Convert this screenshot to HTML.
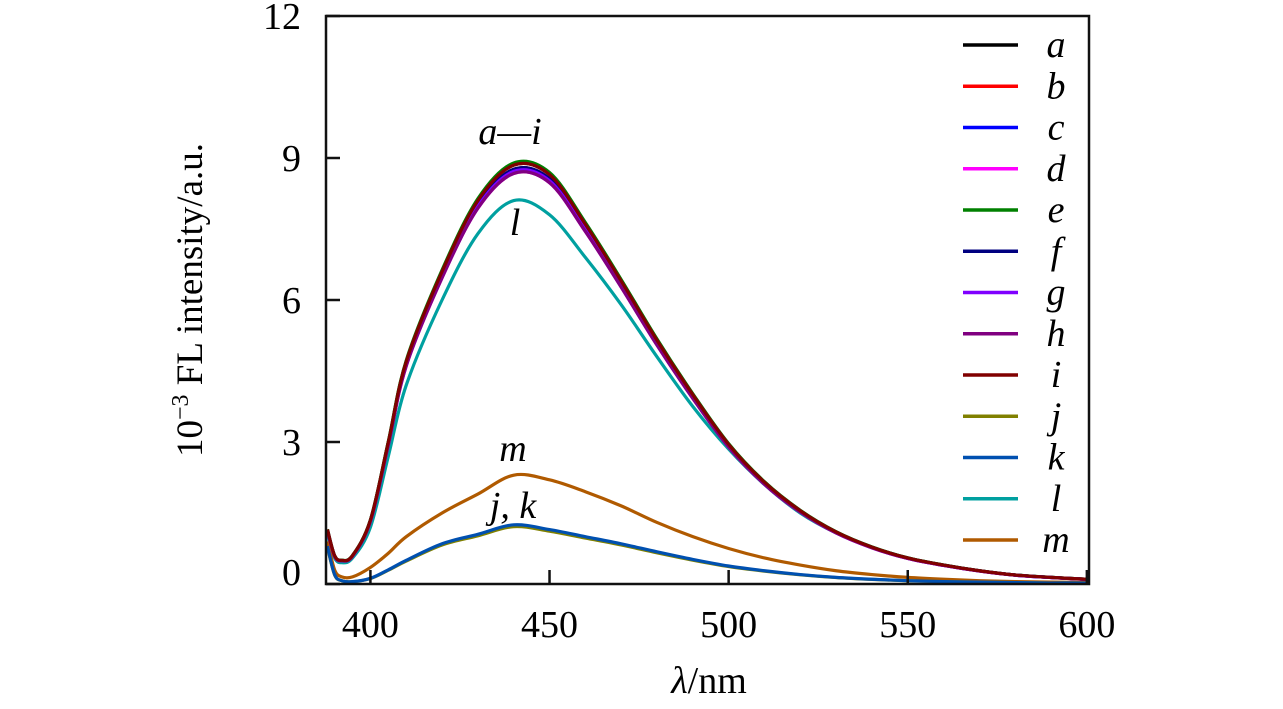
<!DOCTYPE html>
<html><head><meta charset="utf-8"><style>
body{margin:0;background:#fff;}
svg{display:block;}
svg text{font-family:"Liberation Serif","Times New Roman",serif;}
</style></head><body>
<svg id="chart" width="1283" height="709">
<g id="marks"></g>
<rect x="326" y="16" width="763" height="568" fill="none" stroke="#111" stroke-width="2.5"/>
<g id="axes"></g>
<g id="legend"></g>
<text x="190" y="312" font-size="37" text-anchor="middle" transform="rotate(-90 190 300)">10<tspan font-size="24" dy="-14">−3</tspan><tspan dy="14"> FL intensity/a.u.</tspan></text>
<text x="709" y="693" font-size="38" text-anchor="middle"><tspan font-style="italic">λ</tspan>/nm</text>
<text x="510" y="144" font-size="38" font-style="italic" text-anchor="middle">a—i</text>
<text x="515" y="235" font-size="38" font-style="italic" text-anchor="middle">l</text>
<text x="513" y="461" font-size="38" font-style="italic" text-anchor="middle">m</text>
<text x="513" y="518" font-size="38" font-style="italic" text-anchor="middle">j, k</text>
</svg>
<script>
const wavelengths=[388,390,392,395,400,405,410,420,430,440,450,460,470,480,490,500,510,520,530,540,550,560,570,580,590,600];
const mainValues=[1.15,0.6,0.5,0.6,1.35,3.0,4.7,6.6,8.1,8.85,8.65,7.6,6.4,5.15,4.0,2.95,2.15,1.55,1.1,0.78,0.55,0.4,0.28,0.19,0.14,0.1];
const lValues=[1.05,0.55,0.45,0.55,1.2,2.7,4.2,6.0,7.4,8.1,7.8,6.9,5.9,4.8,3.75,2.85,2.1,1.5,1.08,0.78,0.55,0.4,0.28,0.19,0.14,0.1];
const mValues=[0.9,0.3,0.15,0.15,0.35,0.65,1.0,1.5,1.9,2.3,2.2,1.95,1.65,1.3,1.0,0.75,0.55,0.4,0.28,0.2,0.14,0.1,0.07,0.05,0.04,0.03];
const jkValues=[0.8,0.2,0.07,0.05,0.12,0.3,0.5,0.85,1.05,1.25,1.15,1.0,0.85,0.68,0.52,0.38,0.28,0.2,0.14,0.1,0.07,0.05,0.04,0.03,0.02,0.02];
const seriesNames=["a","b","c","d","e","f","g","h","i","j","k","l","m"];
const seriesColors=["#000000","#ff0000","#0000ff","#ff00ff","#008000","#000080","#8000ff","#800080","#800000","#808000","#0050b0","#00a0a0","#b05a00"];
const seriesScale=[1.0,0.99,0.985,0.98,1.005,0.99,0.985,0.98,1.0,0.97,1.0,1,1];
const xTicks=[400,450,500,550,600];
const yTicks=[0,3,6,9,12];
const X0=387.6,X1=600.6,Y0=0,Y1=12;
function sx(v){return 326+(v-X0)/(X1-X0)*763;}
function sy(v){return 584-(v-Y0)/(Y1-Y0)*568;}
const NS="http://www.w3.org/2000/svg";
function mk(t,a,p){const e=document.createElementNS(NS,t);for(const k in a)e.setAttribute(k,a[k]);p.appendChild(e);return e;}
function pathFor(vals){
  const p=wavelengths.map((w,i)=>[sx(w),sy(vals[i])]);
  let d="M"+p[0][0]+","+p[0][1];
  for(let i=0;i<p.length-1;i++){
    const p0=p[Math.max(0,i-1)],p1=p[i],p2=p[i+1],p3=p[Math.min(p.length-1,i+2)];
    const c1=[p1[0]+(p2[0]-p0[0])/6,p1[1]+(p2[1]-p0[1])/6];
    const c2=[p2[0]-(p3[0]-p1[0])/6,p2[1]-(p3[1]-p1[1])/6];
    d+=" C"+c1[0]+","+Math.min(c1[1],583)+" "+c2[0]+","+Math.min(c2[1],583)+" "+p2[0]+","+p2[1];
  }
  return d;
}
const marks=document.getElementById("marks");
const order=[11,12,9,10,0,1,2,3,4,5,6,7,8];
order.forEach(i=>{
  const base=i<9?mainValues:(i<11?jkValues:(i===11?lValues:mValues));
  const vals=base.map(v=>v*seriesScale[i]);
  const e=mk("path",{d:pathFor(vals),fill:"none",stroke:seriesColors[i],"stroke-width":3.2},marks);
  
  
});
const axes=document.getElementById("axes");
xTicks.forEach(t=>{
  const l=mk("line",{x1:sx(t),x2:sx(t),y1:584,y2:570,stroke:"#111","stroke-width":2.5},axes);
  
  
  const tx=mk("text",{x:sx(t),y:637,"font-size":38,"text-anchor":"middle"},axes);
  tx.textContent=t;
  
  
});
yTicks.forEach(t=>{
  const l=mk("line",{x1:326,x2:340,y1:sy(t),y2:sy(t),stroke:"#111","stroke-width":2.5},axes);
  
  
  const ty=t===0?585:sy(t)+13;
  const tx=mk("text",{x:301,y:ty,"font-size":38,"text-anchor":"end"},axes);
  tx.textContent=t;
  
  
});
const legend=document.getElementById("legend");
seriesNames.forEach((n,i)=>{
  const y=45+i*41.25;
  const l=mk("line",{x1:963,x2:1018,y1:y,y2:y,stroke:seriesColors[i],"stroke-width":3.5},legend);
  
  
  const t=mk("text",{x:1056,y:y+12,"font-size":38,"font-style":"italic","text-anchor":"middle"},legend);
  t.textContent=n;
  
  
});
</script>
</body></html>
